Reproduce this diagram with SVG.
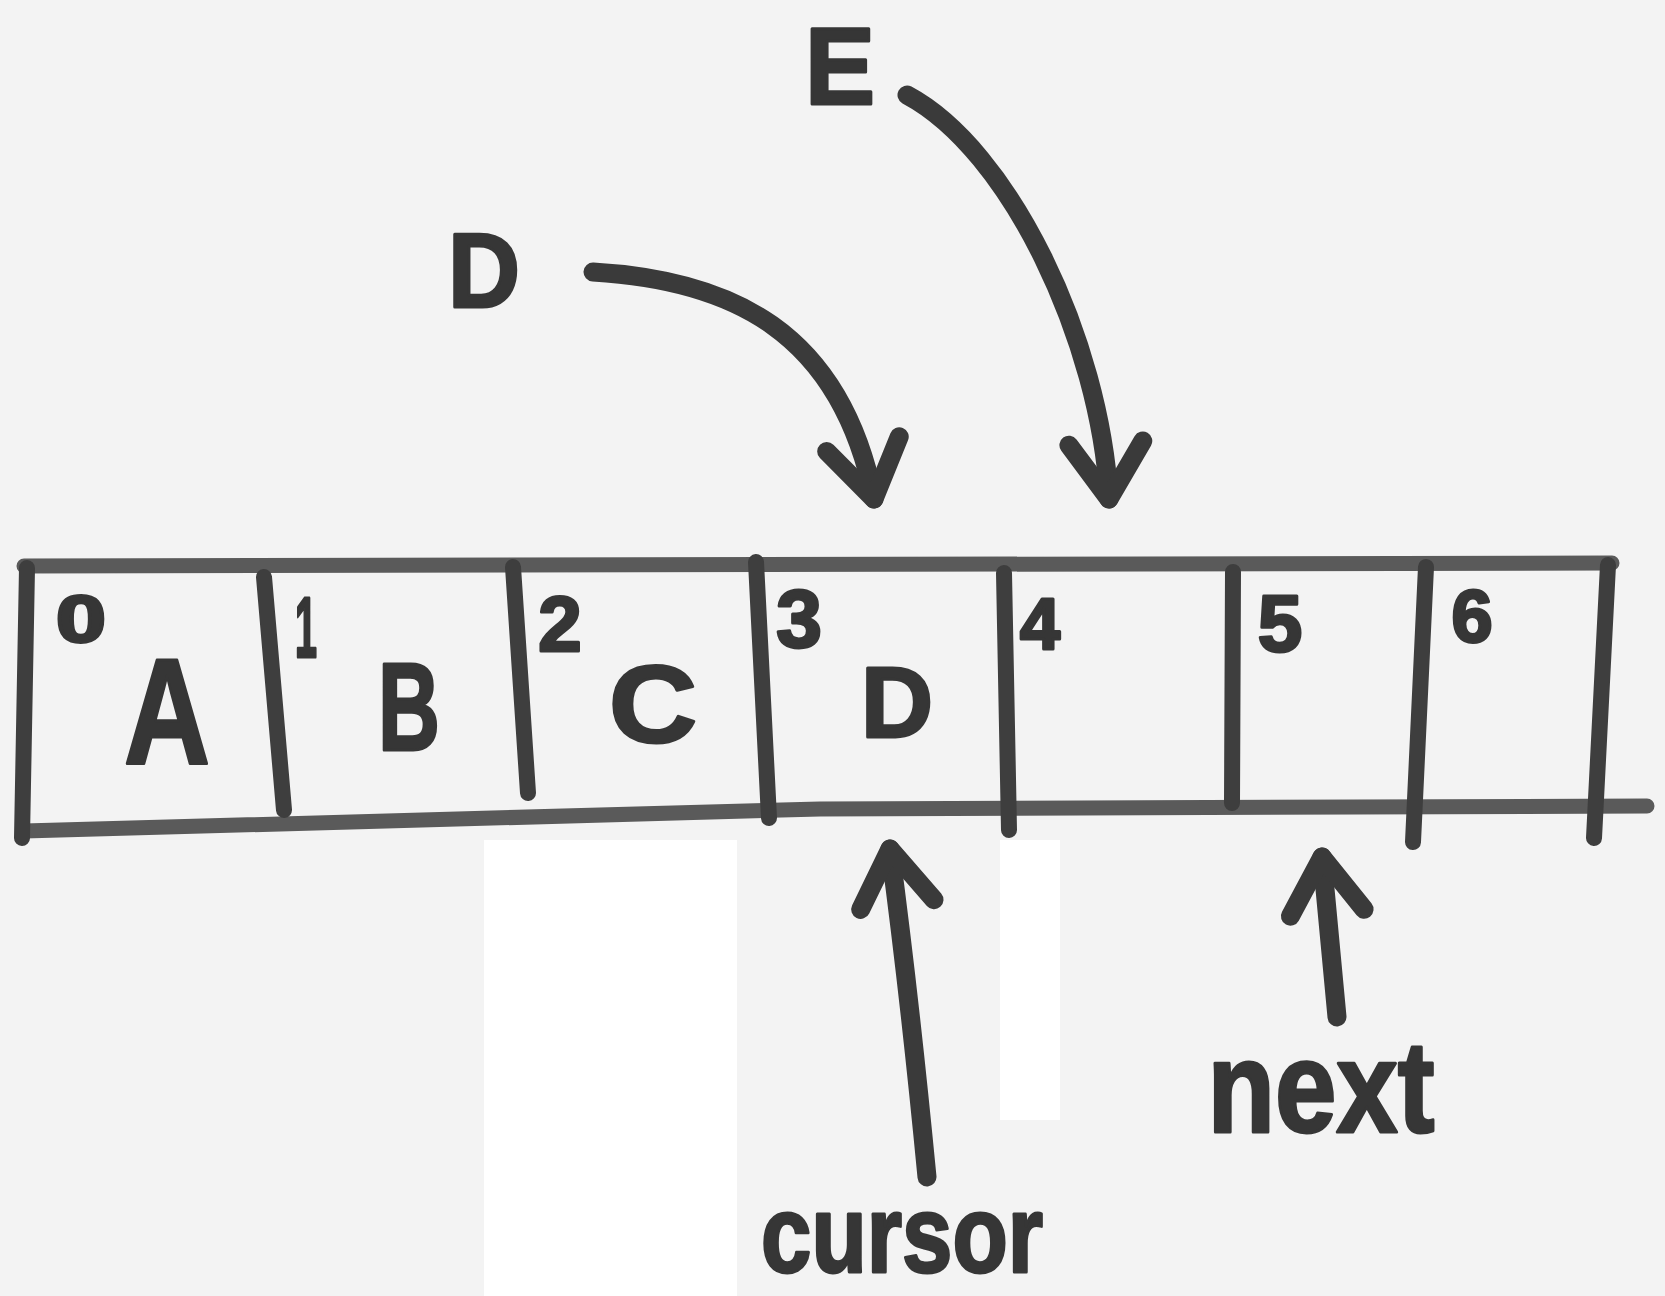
<svg xmlns="http://www.w3.org/2000/svg" width="1665" height="1296" viewBox="0 0 1665 1296">
  <style>
    .hand { font-family: "Liberation Sans", "Arial", sans-serif; font-weight: bold; fill: #363636; stroke: #363636; stroke-width: 3; stroke-linejoin: round; text-anchor: middle; }
    .edge { fill: none; stroke: #5a5a5a; stroke-width: 15; stroke-linecap: round; stroke-linejoin: round; }
    .div { fill: none; stroke: #3e3e3e; stroke-width: 16; stroke-linecap: round; }
    .arrow { fill: none; stroke: #3a3a3a; stroke-width: 19; stroke-linecap: round; stroke-linejoin: round; marker-end: url(#ah); }
  </style>
  <defs>
    <marker id="ah" markerUnits="userSpaceOnUse" orient="auto" overflow="visible" markerWidth="1" markerHeight="1" refX="0" refY="0">
      <path d="M-56,-37 L0,0 L-56,37" fill="none" stroke="#3a3a3a" stroke-width="19" stroke-linecap="round" stroke-linejoin="round"/>
    </marker>
  </defs>

  <rect x="0" y="0" width="1665" height="1296" fill="#f3f3f3"/>
  <rect x="484" y="840" width="253" height="456" fill="#ffffff"/>
  <rect x="1000" y="840" width="60" height="280" fill="#ffffff"/>

  <g id="array">
    <path class="edge" d="M24,566 L1612,563"/>
    <path class="edge" d="M24,831 L820,809 L1647,806"/>
    <path class="div" d="M27,568 L22,838"/>
    <path class="div" d="M264,577 L284,810"/>
    <path class="div" d="M513,567 L528,793"/>
    <path class="div" d="M756,562 L769,818"/>
    <path class="div" d="M1004,573 L1009,830"/>
    <path class="div" d="M1233,572 L1232,803"/>
    <path class="div" d="M1426,567 L1413,842"/>
    <path class="div" d="M1608,565 L1594,838"/>
  </g>

  <g id="cell-0">
    <text class="hand" x="81" y="642" font-size="66" textLength="50" lengthAdjust="spacingAndGlyphs">0</text>
    <text class="hand" x="167" y="763" font-size="150" textLength="86" lengthAdjust="spacingAndGlyphs">A</text>
  </g>
  <g id="cell-1">
    <text class="hand" x="306" y="657" font-size="85" textLength="22" lengthAdjust="spacingAndGlyphs">1</text>
    <text class="hand" x="409" y="750" font-size="125" textLength="62" lengthAdjust="spacingAndGlyphs">B</text>
  </g>
  <g id="cell-2">
    <text class="hand" x="560" y="651" font-size="78">2</text>
    <text class="hand" x="653" y="742" font-size="110" textLength="88" lengthAdjust="spacingAndGlyphs">C</text>
  </g>
  <g id="cell-3">
    <text class="hand" x="799" y="647" font-size="82">3</text>
    <text class="hand" x="897" y="737" font-size="100" textLength="72" lengthAdjust="spacingAndGlyphs">D</text>
  </g>
  <g id="cell-4">
    <text class="hand" x="1040" y="649" font-size="72">4</text>
  </g>
  <g id="cell-5">
    <text class="hand" x="1280" y="651" font-size="80">5</text>
  </g>
  <g id="cell-6">
    <text class="hand" x="1472" y="642" font-size="74">6</text>
  </g>

  <g id="label-D">
    <text class="hand" x="484" y="307" font-size="105" textLength="72" lengthAdjust="spacingAndGlyphs">D</text>
  </g>
  <g id="label-E">
    <text class="hand" x="840" y="104" font-size="110" textLength="70" lengthAdjust="spacingAndGlyphs">E</text>
  </g>
  <g id="label-cursor">
    <text class="hand" x="902" y="1272" font-size="110" textLength="282" lengthAdjust="spacingAndGlyphs">cursor</text>
  </g>
  <g id="label-next">
    <text class="hand" x="1321" y="1132" font-size="130" textLength="227" lengthAdjust="spacingAndGlyphs">next</text>
  </g>

  <g id="connectors">
    <path class="arrow" d="M593,272 C730,280 840,330 874,499"/>
    <path class="arrow" d="M907,95 C1010,150 1100,340 1109,499"/>
    <path class="arrow" d="M927,1177 Q910,1000 890,849"/>
    <path class="arrow" d="M1337,1017 L1322,857"/>
  </g>
</svg>
